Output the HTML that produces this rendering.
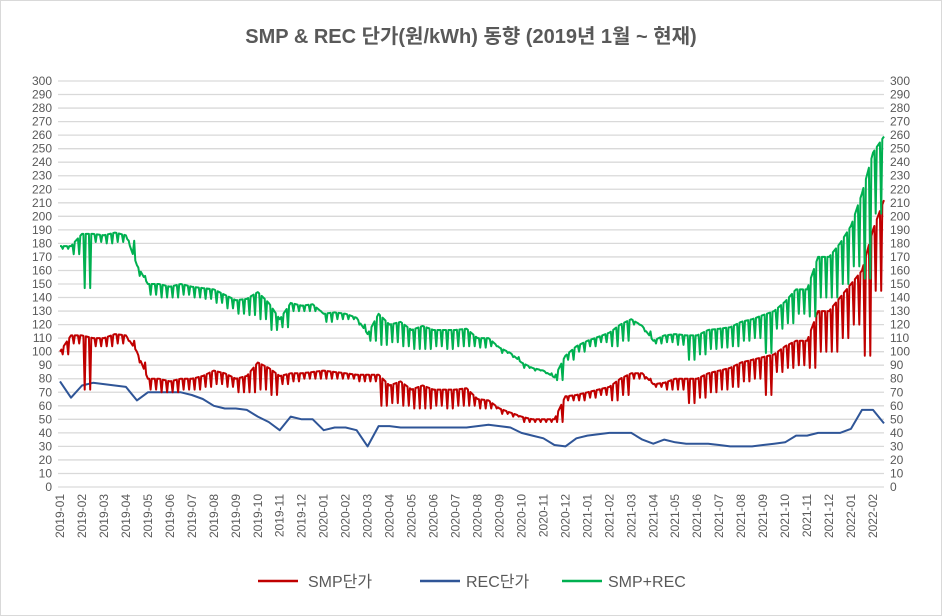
<!DOCTYPE html>
<html><head><meta charset="utf-8"><style>
body{margin:0;background:#fff}
svg{display:block;font-family:"Liberation Sans","Noto Sans CJK KR",sans-serif}
</style></head><body>
<svg id="c" width="942" height="616">
<rect x="0.5" y="0.5" width="941" height="615" fill="#fff" stroke="#d9d9d9"/>
<text x="471" y="43" text-anchor="middle" font-size="20" font-weight="bold" fill="#595959">SMP &amp; REC 단가(원/kWh) 동향 (2019년 1월 ~ 현재)</text>
<g id="grid"></g><g id="ylab"></g><g id="xlab"></g><g id="series"></g>
<g>
<line x1="258" y1="581" x2="298" y2="581" stroke="#c00000" stroke-width="2.5"/>
<text x="308" y="587" font-size="16" fill="#595959">SMP단가</text>
<line x1="420" y1="581" x2="460" y2="581" stroke="#2f5597" stroke-width="2.5"/>
<text x="466" y="587" font-size="16" fill="#595959">REC단가</text>
<line x1="562" y1="581" x2="602" y2="581" stroke="#00b050" stroke-width="2.5"/>
<text x="608" y="587" font-size="16" fill="#595959">SMP+REC</text>
</g>
</svg>
<script>
const months=[];
for(let y=2019;y<=2022;y++)for(let m=1;m<=12;m++){if(y===2022&&m>2)break;months.push(y+'-'+String(m).padStart(2,'0'));}
const yTicks=[0,10,20,30,40,50,60,70,80,90,100,110,120,130,140,150,160,170,180,190,200,210,220,230,240,250,260,270,280,290,300];
// half-month samples starting 2019-01: typical (weekday) SMP level
const smp=[100,112,112,110,110,113,112,100,80,80,78,80,80,82,86,84,80,82,92,88,82,84,84,85,86,85,84,83,83,83,75,78,72,75,72,72,72,73,65,64,58,55,52,50,50,50,67,68,70,72,74,80,84,84,76,77,80,80,80,84,86,88,92,94,96,98,104,108,108,130,130,140,150,160,190,212];
// half-month weekend/holiday dip SMP level
const smpLow=[98,106,72,104,104,106,108,92,72,70,70,72,72,74,76,74,70,70,72,68,76,78,80,80,80,80,80,78,78,60,62,60,58,58,60,58,60,60,58,58,54,52,48,48,48,48,64,64,66,68,64,68,80,80,74,72,72,62,66,70,72,74,78,80,68,85,88,90,88,100,100,110,120,97,145,185];
const rec=[78,66,75,77,76,75,74,64,70,70,70,70,68,65,60,58,58,57,52,48,42,52,50,50,42,44,44,42,30,45,45,44,44,44,44,44,44,44,45,46,45,44,40,38,36,31,30,36,38,39,40,40,40,35,32,35,33,32,32,32,31,30,30,30,31,32,33,38,38,40,40,40,43,57,57,47];
const x0=60,x1=873,yb=487,yt=81;
const X=t=>x0+t*(x1-x0)/37;
const Y=v=>yb-v*(yb-yt)/300;
const NS='http://www.w3.org/2000/svg';
function mk(tag,parent,attrs){const e=document.createElementNS(NS,tag);for(const k in attrs)e.setAttribute(k,attrs[k]);parent.appendChild(e);return e;}
const grid=document.getElementById('grid'),yl=document.getElementById('ylab'),xl=document.getElementById('xlab'),ser=document.getElementById('series');
yTicks.forEach(v=>{
 const l=mk('line',grid,{x1:58,x2:884,y1:Y(v),y2:Y(v),stroke:'#d9d9d9','stroke-width':1.3});
 
 
 const a=mk('text',yl,{x:52,y:Y(v)+4,'text-anchor':'end','font-size':12,fill:'#595959'});a.textContent=v;
 
 
 const b=mk('text',yl,{x:890,y:Y(v)+4,'font-size':12,fill:'#595959'});b.textContent=v;
 
 
});
months.forEach((m,i)=>{
 const x=X(i);
 const t=mk('text',xl,{x:0,y:0,'text-anchor':'end','font-size':12,fill:'#595959',transform:`translate(${x+4},494) rotate(-90)`});t.textContent=m;
 
 
});
function jagged(hi,lo){
 const pts=[];
 hi.forEach((v,i)=>{
  const t=i/2;
  pts.push([t,v]);
  if(i<hi.length-1){
   const n=hi[i+1];
   const at=f=>v+(n-v)*f;
   [0.25,0.75].forEach(f=>{
     pts.push([t+(f-0.12)/2,at(f-0.12)],[t+f/2,lo[i]],[t+(f+0.1)/2,at(f+0.1)]);
   });
  }
 });
 return pts;
}
function path(pts,color,name){
 const d=pts.map((p,i)=>(i?'L':'M')+X(p[0]).toFixed(1)+','+Y(p[1]).toFixed(1)).join('');
 const p=mk('path',ser,{d:d,fill:'none',stroke:color,'stroke-width':2,'stroke-linejoin':'round'});
 
 
}
const sum=smp.map((v,i)=>v+rec[i]);
const sumLow=smpLow.map((v,i)=>v+rec[i]);
path(rec.map((v,i)=>[i/2,v]),'#2f5597','rec-line');
path(jagged(smp,smpLow),'#c00000','smp-line');
path(jagged(sum,sumLow),'#00b050','smp-plus-rec-line');
</script>
</body></html>
